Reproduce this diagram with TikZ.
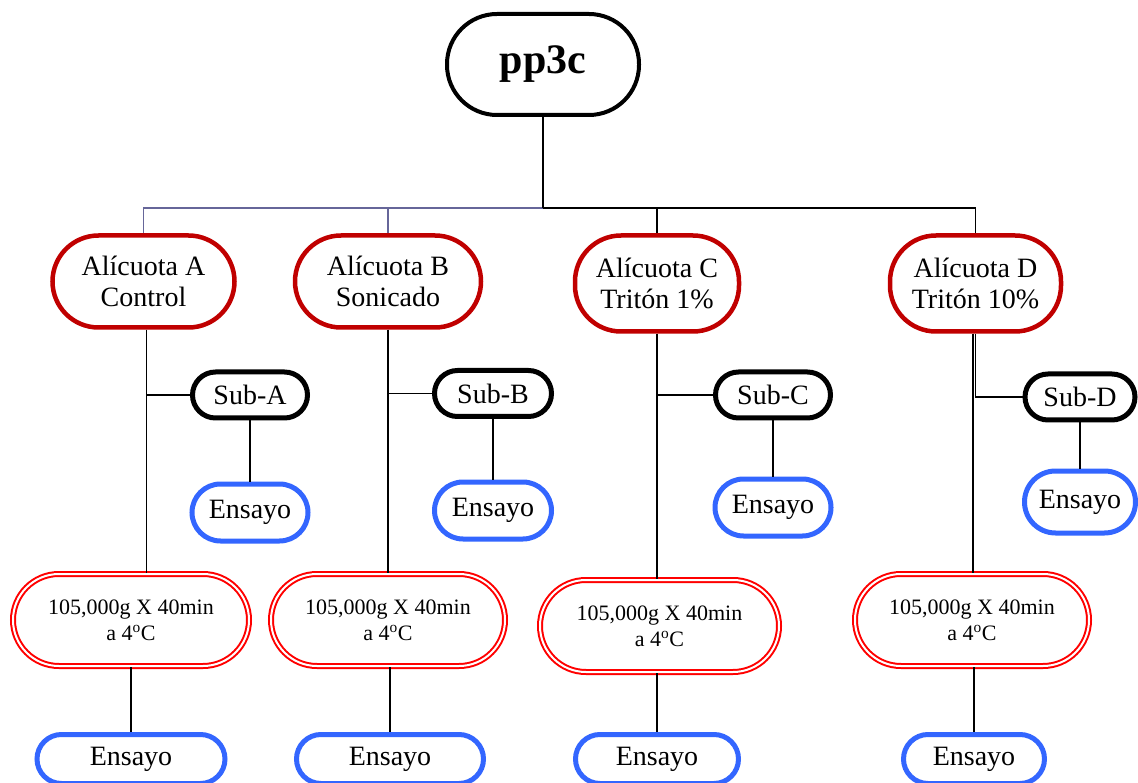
\documentclass[tikz,border=0pt]{standalone}
\usepackage{fontspec}
\setmainfont{Liberation Serif}
\definecolor{darkred}{HTML}{C00000}
\definecolor{brightred}{HTML}{FF0000}
\definecolor{ensblue}{HTML}{3366FF}
\definecolor{busgray}{HTML}{666699}
\tikzset{
  topbox/.style={draw=black, line width=4pt, rounded corners=50pt, minimum width=192pt, minimum height=101pt, inner sep=0pt, font=\fontsize{42}{46}\selectfont\bfseries},
  aliq/.style={draw=darkred, line width=4.5pt, rounded corners=46pt, minimum height=94pt, inner sep=0pt, align=center, font=\fontsize{28}{31}\selectfont},
  subbox/.style={draw=black, line width=5pt, rounded corners=23pt, minimum width=115pt, minimum height=46pt, inner sep=0pt, font=\fontsize{28}{31}\selectfont},
  ensbox/.style={draw=ensblue, line width=5pt, rounded corners=28.5pt, minimum height=57pt, inner sep=0pt, font=\fontsize{28}{31}\selectfont},
  centbox/.style={draw=brightred, line width=2pt, double=white, double distance=2pt, rounded corners=46pt, minimum height=92pt, inner sep=0pt, align=center, font=\fontsize{22}{26}\selectfont},
  conn/.style={draw=black, line width=1.8pt},
  busline/.style={draw=busgray, line width=1.4pt}
}
\begin{document}
\begin{tikzpicture}[x=1pt,y=-1pt]
\useasboundingbox (0,0) rectangle (1138,783);
% top
\node[topbox] (top) at (543,64.5) {pp3c};
% aliquots
\node[aliq, minimum width=182pt, minimum height=92pt] (aA) at (143.5,281.5) {Alícuota A\\Control};
\node[aliq, minimum width=186pt, minimum height=92pt] (aB) at (388,281.5) {Alícuota B\\Sonicado};
\node[aliq, minimum width=164pt, minimum height=96pt] (aC) at (657,283.5) {Alícuota C\\Tritón 1\%};
\node[aliq, minimum width=171pt, minimum height=96pt] (aD) at (975.5,283.5) {Alícuota D\\Tritón 10\%};
% subs
\node[subbox] (sA) at (250,395) {Sub-A};
\node[subbox, minimum width=117pt] (sB) at (493,393.5) {Sub-B};
\node[subbox] (sC) at (773,395) {Sub-C};
\node[subbox, minimum width=110pt] (sD) at (1080,397) {Sub-D};
% mid ensayo
\node[ensbox, minimum width=116pt] (eA) at (250,512.5) {Ensayo};
\node[ensbox, minimum width=117pt] (eB) at (493,510.5) {Ensayo};
\node[ensbox, minimum width=116pt] (eC) at (773,507.5) {Ensayo};
\node[ensbox, minimum width=111pt, minimum height=62pt, rounded corners=31pt] (eD) at (1080,502) {Ensayo};
% centrifugation
\node[centbox, minimum width=236pt] (cA) at (131,620) {105,000g X 40min\\a 4\textsuperscript{o}C};
\node[centbox, minimum width=234pt] (cB) at (388,620) {105,000g X 40min\\a 4\textsuperscript{o}C};
\node[centbox, minimum width=239pt] (cC) at (659.5,626) {105,000g X 40min\\a 4\textsuperscript{o}C};
\node[centbox, minimum width=234pt] (cD) at (972,620) {105,000g X 40min\\a 4\textsuperscript{o}C};
% bottom ensayo
\node[ensbox, minimum width=188pt, minimum height=49pt, rounded corners=24.5pt] (fA) at (131,759) {Ensayo};
\node[ensbox, minimum width=187pt, minimum height=49pt, rounded corners=24.5pt] (fB) at (390,759) {Ensayo};
\node[ensbox, minimum width=163pt, minimum height=49pt, rounded corners=24.5pt] (fC) at (657,759) {Ensayo};
\node[ensbox, minimum width=141pt, minimum height=49pt, rounded corners=24.5pt] (fD) at (974,759) {Ensayo};
% bus
\coordinate (bus) at (543,208);
\draw[busline] (aA.north) |- (bus);
\draw[busline] (aB.north) -- (aB.north |- bus);
\draw[conn] (top.south) -- (bus);
\draw[conn] (bus) -| (aD.north);
\draw[conn] (aC.north) -- (aC.north |- bus);
% branch A
\draw[conn] ([xshift=3pt]aA.south) -- ([xshift=3pt]aA.south |- cA.north);
\draw[conn] ([xshift=3pt]aA.south |- sA.west) -- (sA.west);
\draw[conn] (sA.south) -- (eA.north);
\draw[conn] (cA.south) -- (fA.north);
% branch B
\draw[conn] (aB.south) -- (aB.south |- cB.north);
\draw[conn] (aB.south |- sB.west) -- (sB.west);
\draw[conn] (sB.south) -- (eB.north);
\draw[conn] (fB.north |- cB.south) -- (fB.north);
% branch C
\draw[conn] (aC.south) -- (aC.south |- cC.north);
\draw[conn] (aC.south |- sC.west) -- (sC.west);
\draw[conn] (sC.south) -- (eC.north);
\draw[conn] (fC.north |- cC.south) -- (fC.north);
% branch D
\draw[conn] (aD.south) |- (sD.west);
\draw[conn] ([xshift=-2.5pt]aD.south) -- ([xshift=-2.5pt]aD.south |- cD.north);
\draw[conn] (sD.south) -- (eD.north);
\draw[conn] (fD.north |- cD.south) -- (fD.north);
\end{tikzpicture}
\end{document}
